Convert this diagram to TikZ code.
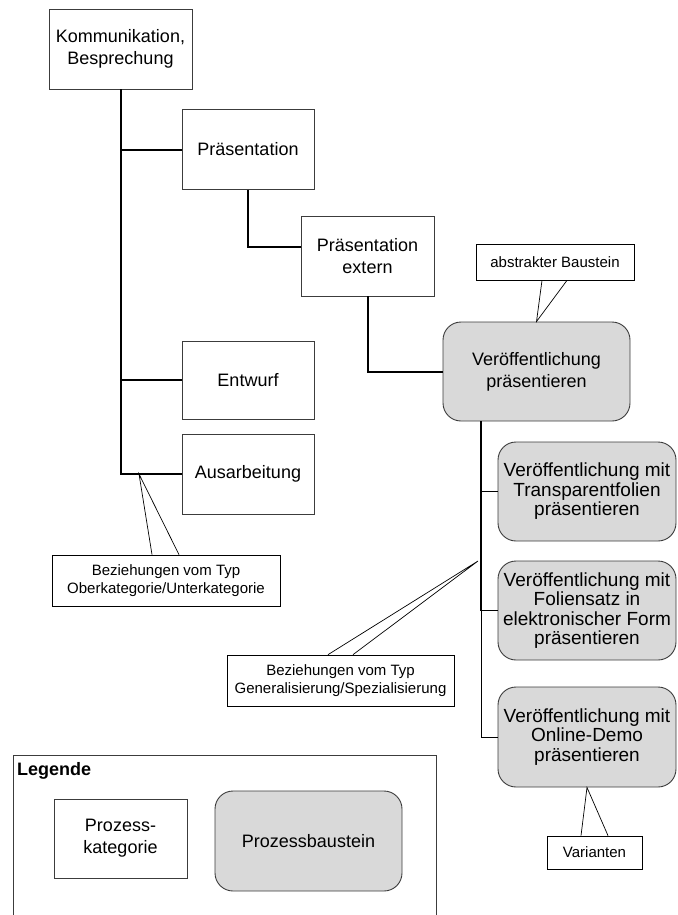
\documentclass[tikz,border=0pt]{standalone}
\usepackage{fontspec}
\setmainfont{Liberation Sans}
\usetikzlibrary{calc}

\definecolor{bausteingray}{RGB}{217,217,217}
\definecolor{rahmen}{RGB}{60,60,60}

\begin{document}
\begin{tikzpicture}[
  x=1pt, y=-1pt,
  kategorie/.style={draw=rahmen, line width=0.9pt, align=center, inner sep=2pt,
    minimum width=132pt, minimum height=80pt, font=\fontsize{18}{22}\selectfont},
  baustein/.style={kategorie, fill=bausteingray, rounded corners=18pt},
  variante/.style={baustein, minimum width=178pt, minimum height=99pt,
    inner sep=0pt, font=\fontsize{19}{19.5}\selectfont},
  notiz/.style={draw=black, line width=0.7pt, fill=white, align=center, inner sep=1pt,
    font=\fontsize{15}{17.5}\selectfont},
  hierarchie/.style={line width=2pt},
  generalisierung/.style={line width=1pt},
  zeiger/.style={line width=0.7pt}
]
\useasboundingbox (0,0) rectangle (677,915);

\node[kategorie, minimum width=143pt] (komm) at (120.5,49) {Kommunikation,\\Besprechung};
\node[kategorie] (praes) at (248,149.5) {Präsentation};
\node[kategorie, minimum width=133pt] (praesext) at (367.5,256) {Präsentation\\extern};
\node[kategorie, minimum height=78pt] (entwurf) at (248,380) {Entwurf};
\node[kategorie] (ausarb) at (248,474) {Ausarbeitung};
\node[baustein, minimum width=187pt, minimum height=99pt] (veroeff) at (536.5,371.5) {Veröffentlichung\\präsentieren};
\node[variante] (transp) at (587,491.5) {Veröffentlichung mit\\Transparentfolien\\präsentieren};
\node[variante] (folien) at (587,610.5) {Veröffentlichung mit\\Foliensatz in\\elektronischer Form\\präsentieren};
\node[variante, minimum height=100pt] (online) at (587,737) {Veröffentlichung mit\\Online-Demo\\präsentieren};

\draw[hierarchie] (komm.south) |- (ausarb.west);
\draw[hierarchie] (komm.south |- praes.west) -- (praes.west);
\draw[hierarchie] (komm.south |- entwurf.west) -- (entwurf.west);
\draw[hierarchie] (praes.south) |- ([yshift=9pt]praesext.west);
\draw[hierarchie] (praesext.south) |- (veroeff.west);

\coordinate (vsplit) at (481,421);
\draw[hierarchie] (vsplit) -- (vsplit |- folien.west);
\draw[generalisierung] (vsplit |- folien.west) |- (online.west);
\draw[generalisierung] (vsplit |- transp.west) -- (transp.west);
\draw[generalisierung] (vsplit |- folien.west) -- (folien.west);

\node[notiz, minimum width=158pt, minimum height=36pt] (abstrakt) at (555,262) {abstrakter Baustein};
\node[notiz, minimum width=228pt, minimum height=51pt] (oberunter) at (166,580.5) {Beziehungen vom Typ\\Oberkategorie/Unterkategorie};
\node[notiz, minimum width=227pt, minimum height=51pt] (genspez) at (340.5,680.5) {Beziehungen vom Typ\\Generalisierung/Spezialisierung};
\node[notiz, minimum width=95pt, minimum height=33pt] (varianten) at (594.5,852.5) {Varianten};

\coordinate (tipober) at (139,474);
\coordinate (tipgen) at (478,561);
\draw[zeiger] ([xshift=-13pt]abstrakt.south) -- (veroeff.north) -- ([xshift=12pt]abstrakt.south);
\draw[zeiger] ([xshift=-14pt]oberunter.north) -- (tipober) -- ([xshift=13pt]oberunter.north);
\draw[zeiger] ([xshift=-12.5pt]genspez.north) -- (tipgen) -- ([xshift=12.5pt]genspez.north);
\draw[zeiger] ([xshift=-13.5pt]varianten.north) -- (online.south) -- ([xshift=13.5pt]varianten.north);

\draw[line width=0.9pt, draw=rahmen] (13,916) |- (436,755) -- (436,916);
\node[anchor=north west, inner sep=0pt, font=\fontsize{18}{22}\selectfont\bfseries] (legende) at (17,762) {Legende};
\node[kategorie, minimum width=133pt, minimum height=79pt] (pkat) at (120.5,838.5) {Prozess-\\kategorie};
\node[baustein, minimum width=187pt, minimum height=100pt] (pbst) at (308.5,841) {Prozessbaustein};
\end{tikzpicture}
\end{document}
